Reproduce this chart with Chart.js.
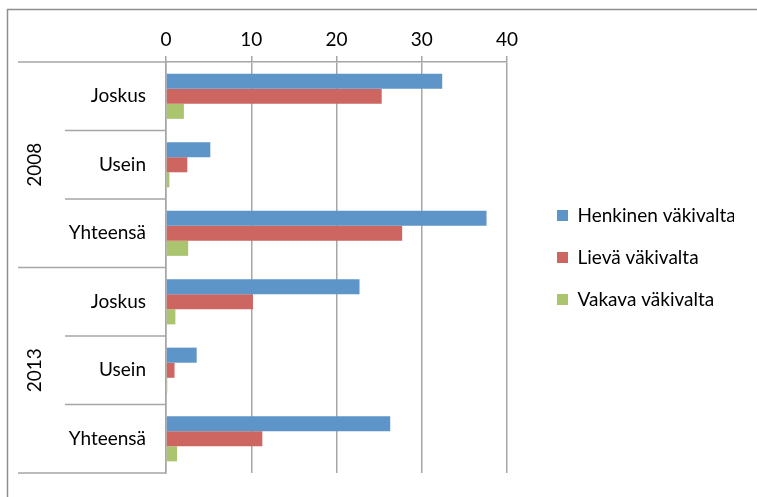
<!DOCTYPE html>
<html>
<head>
<meta charset="utf-8">
<script src="https://cdn.jsdelivr.net/npm/chart.js@4/dist/chart.umd.min.js"></script>
<style>
  body { margin: 0; background: #fff; }
</style>
</head>
<body>
<canvas id="myBarChart" width="757" height="497"></canvas>
<script>
const categories = ["Joskus", "Usein", "Yhteensä", "Joskus", "Usein", "Yhteensä"];
const years = ["2008", "2013"];
const groupSize = 3;
const henkinen = [32.4, 5.2, 37.6, 22.7, 3.6, 26.3];
const lieva = [25.3, 2.5, 27.7, 10.2, 1.0, 11.3];
const vakava = [2.1, 0.4, 2.6, 1.1, 0.15, 1.3];
const xMin = 0;
const xMax = 40;
const xStep = 10;

document.addEventListener("DOMContentLoaded", function () {
  const font = { family: "Lato", size: 19 };
  const lineColor = "#a6a6a6";

  // outer frame, category separators and the rotated year labels
  const groupAxis = {
    id: "groupAxis",
    beforeDraw(chart) {
      const c = chart.ctx;
      c.save();
      c.strokeStyle = "#8e8e8e";
      c.lineWidth = 1.5;
      c.strokeRect(7.5, 9.5, 800, 600);
      c.restore();
    },
    afterDraw(chart) {
      const c = chart.ctx;
      const y = chart.scales.y;
      const area = chart.chartArea;
      const step = y.getPixelForTick(1) - y.getPixelForTick(0);
      c.save();
      c.strokeStyle = lineColor;
      c.lineWidth = 1.5;
      for (let i = 0; i <= categories.length; i++) {
        const py = i === 0 ? area.top : i === categories.length ? area.bottom : y.getPixelForTick(i) - step / 2;
        const x0 = i % groupSize === 0 ? 18 : 65;
        c.beginPath();
        c.moveTo(x0, py);
        c.lineTo(area.left, py);
        c.stroke();
      }
      c.fillStyle = "#000";
      c.font = font.size + "px " + font.family;
      c.textAlign = "center";
      c.textBaseline = "middle";
      years.forEach(function (year, g) {
        const top = y.getPixelForTick(g * groupSize) - step / 2;
        const bottom = y.getPixelForTick(g * groupSize + groupSize - 1) + step / 2;
        c.save();
        c.translate(35, (top + bottom) / 2);
        c.rotate(-Math.PI / 2);
        c.fillText(year, 0, 0);
        c.restore();
      });
      c.restore();
    },
  };

  const moveLegend = {
    id: "moveLegend",
    afterLayout(chart) {
      const lg = chart.legend;
      lg.left += 27;
      lg.right += 27;
      lg.top += 16;
      lg.bottom += 16;
    },
  };

  const ctx = document.getElementById("myBarChart").getContext("2d");
  new Chart(ctx, {
    type: "bar",
    data: {
      labels: categories,
      datasets: [
        { label: "Henkinen väkivalta", data: henkinen, backgroundColor: "#5e95c8" },
        { label: "Lievä väkivalta", data: lieva, backgroundColor: "#cd6560" },
        { label: "Vakava väkivalta", data: vakava, backgroundColor: "#abc46e" },
      ],
    },
    options: {
      indexAxis: "y",
      responsive: false,
      animation: false,
      categoryPercentage: 0.66,
      barPercentage: 1,
      layout: { padding: { top: 10, left: 0, right: 50, bottom: 24 } },
      scales: {
        x: {
          position: "top",
          min: xMin,
          max: xMax,
          afterFit(scale) { scale.height = 52; },
          ticks: { stepSize: xStep, color: "#000", font: font, padding: 5 },
          grid: { color: lineColor, lineWidth: 1.5, tickLength: 6 },
          border: { color: lineColor, width: 1.5 },
        },
        y: {
          afterFit(scale) {
            scale.width = 166;
            scale.paddingTop = 0;
            scale.paddingBottom = 0;
          },
          ticks: { color: "#000", font: font, padding: 20 },
          grid: { display: false, drawTicks: false },
          border: { color: lineColor, width: 1.5 },
        },
      },
      plugins: {
        legend: {
          position: "right",
          maxWidth: 200,
          labels: { boxWidth: 11, boxHeight: 11, padding: 23, color: "#000", font: font },
        },
        tooltip: { enabled: false },
      },
    },
    plugins: [groupAxis, moveLegend],
  });
});
</script>
</body>
</html>
